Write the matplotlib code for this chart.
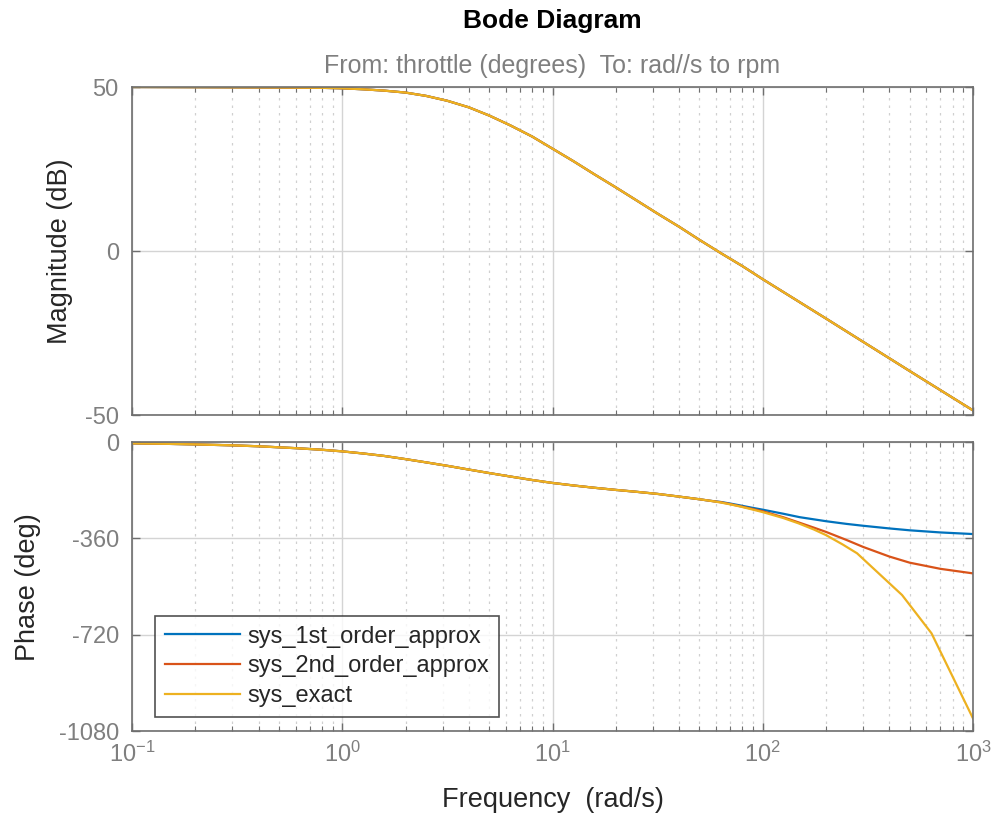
import numpy as np
import matplotlib
matplotlib.use("Agg")
import matplotlib.pyplot as plt
from matplotlib.ticker import LogLocator, NullFormatter

plt.rcParams['font.family'] = ['Liberation Sans', 'DejaVu Sans']
plt.rcParams['axes.unicode_minus'] = False
plt.rcParams['mathtext.default'] = 'regular'

# ---- data ----
series_names = ["sys_1st_order_approx", "sys_2nd_order_approx", "sys_exact"]
series_colors = ["#0072BD", "#D95319", "#EDB120"]

freq_mag = [0.1, 0.2, 0.5, 0.8, 1.0, 1.26, 1.58, 2.0, 2.5, 3.16, 4.0, 5.0, 6.3, 8.0, 10, 12.6, 15.8,
            20, 25, 31.6, 40, 50, 63, 80, 100, 200, 500, 1000]
mag_db = [50.0, 49.95, 49.85, 49.75, 49.6, 49.3, 48.9, 48.3, 47.3, 45.8, 43.8, 41.3, 38.3, 34.9, 31.2,
          27.35, 23.4, 19.4, 15.5, 11.4, 7.4, 3.4, -0.6, -4.6, -8.6, -20.6, -36.6, -48.6]

freq_common = [0.1, 0.15, 0.2, 0.3, 0.4, 0.6, 0.8, 1, 1.26, 1.58, 2, 2.5, 3.16, 4, 5, 6.3, 8, 10,
               12.6, 15.8, 20, 25, 31.6, 40, 50, 56]
phase_common = [-5, -7, -9, -12.5, -16, -23, -29, -35, -43, -52, -64, -76, -89, -103, -116, -129,
                -142, -153, -162.5, -171, -179, -186, -194, -204, -214, -219.5]

freq_1st = [63, 70, 78, 88, 100, 125, 150, 200, 250, 300, 400, 500, 700, 1000]
phase_1st = [-224, -230, -237, -245, -253, -268, -281, -296, -306, -313, -323, -330, -338, -344]

freq_2nd = [63, 70, 78, 88, 100, 125, 150, 175, 200, 250, 300, 400, 500, 700, 1000]
phase_2nd = [-225, -232, -240, -249, -259, -281, -302, -320, -336, -366, -392, -428, -451, -474, -491]

freq_exact = [63, 70, 78, 88, 100, 125, 148, 175, 200, 240, 281, 460, 635, 1000]
phase_exact = [-226, -233, -241, -251, -262, -284, -304, -327, -348, -383, -416, -572, -715, -1033]

mag_ticks = [-50, 0, 50]
phase_ticks = [-1080, -720, -360, 0]

# ---- figure ----
W, H = 998, 821
fig = plt.figure(figsize=(W / 100, H / 100), dpi=100)

def fx(px):
    return px / W

def fy(py):
    return 1 - py / H

left, right = 132, 973
ax1 = fig.add_axes([fx(left), fy(415), fx(right - left), (415 - 87) / H])
ax2 = fig.add_axes([fx(left), fy(731), fx(right - left), (731 - 442) / H])

axis_grey = "#6e6e6e"
tick_grey = "#7f7f7f"

phase_f = [freq_common + freq_1st, freq_common + freq_2nd, freq_common + freq_exact]
phase_v = [phase_common + phase_1st, phase_common + phase_2nd, phase_common + phase_exact]

for name, c, pf, pv in zip(series_names, series_colors, phase_f, phase_v):
    ax1.plot(freq_mag, mag_db, color=c, lw=1.6, label=name)
    ax2.plot(pf, pv, color=c, lw=1.6, label=name)

for ax in (ax1, ax2):
    ax.set_xscale('log')
    ax.set_xlim(0.1, 1000)
    ax.xaxis.set_major_locator(LogLocator(base=10, numticks=10))
    ax.xaxis.set_minor_locator(LogLocator(base=10, subs=np.arange(2, 10), numticks=20))
    ax.xaxis.set_minor_formatter(NullFormatter())
    ax.grid(True, which='major', color='#d4d4d4', lw=1.0, ls='-')
    ax.grid(True, which='minor', axis='x', color='#d0d0d0', lw=0.9, ls=(0, (2, 4)))
    ax.set_axisbelow(True)
    for s in ax.spines.values():
        s.set_color(axis_grey)
        s.set_linewidth(1.2)
    ax.tick_params(which='both', direction='in', top=True, right=True, colors=axis_grey,
                   labelcolor=tick_grey, labelsize=17)
    ax.tick_params(which='major', length=6, width=1.0)
    ax.tick_params(which='minor', length=3.5, width=0.8)
    ax.tick_params(axis='y', pad=9.5)

ax1.set_ylim(-50, 50)
ax1.set_yticks(mag_ticks)
ax1.tick_params(axis='x', labelbottom=False)

ax2.set_ylim(-1080, 0)
ax2.set_yticks(phase_ticks)
ax2.tick_params(axis='x', pad=8)

leg = ax2.legend(loc='lower left', bbox_to_anchor=(0.027, 0.048), fontsize=17,
                 frameon=True, fancybox=False, handlelength=3.2, handletextpad=0.3,
                 borderpad=0.42, labelspacing=0.33, borderaxespad=0)
leg.get_frame().set_edgecolor('#262626')
leg.get_frame().set_linewidth(1.2)
for t in leg.get_texts():
    t.set_color('#262626')

cx = fx((left + right) / 2)
fig.text(cx, fy(21), "Bode Diagram", ha='center', va='center', fontsize=19,
         fontweight='bold', color='black')
fig.text(cx, fy(66), "From: throttle (degrees)  To: rad//s to rpm", ha='center', va='center',
         fontsize=18, color=tick_grey)
fig.text(fx(60), fy(251), "Magnitude (dB)", rotation=90, ha='center', va='center',
         fontsize=19.5, color='#262626')
fig.text(fx(28), fy(587), "Phase (deg)", rotation=90, ha='center', va='center',
         fontsize=19.5, color='#262626')
fig.text(cx, fy(800), "Frequency  (rad/s)", ha='center', va='center',
         fontsize=19.5, color='#262626')

fig.savefig("out.png", dpi=100)
